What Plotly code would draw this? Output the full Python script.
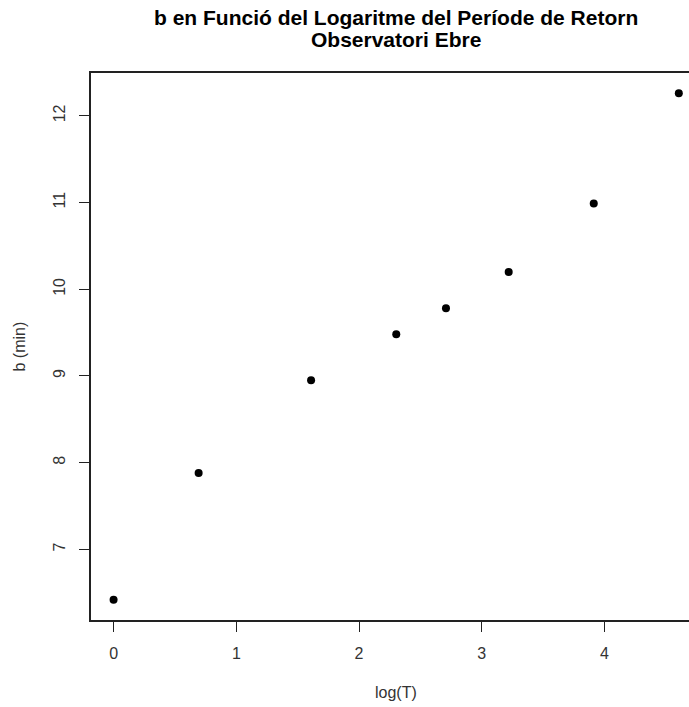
import plotly.graph_objects as go

# Return periods (years) and the fitted b parameter (minutes)
log_T = [0.0, 0.693, 1.609, 2.303, 2.708, 3.219, 3.912, 4.605]
b_min = [6.42, 7.88, 8.95, 9.48, 9.78, 10.20, 10.99, 12.26]

x_ticks = [0, 1, 2, 3, 4]
y_ticks = [7, 8, 9, 10, 11, 12]

W, H = 689, 707
L, T, B = 91, 73, 87

font = "Liberation Sans, Arial, sans-serif"
text_col = "#333333"
line_col = "#222222"

fig = go.Figure(
    go.Scatter(
        x=log_T, y=b_min, mode="markers",
        marker=dict(color="black", size=8, line=dict(width=0)),
        hoverinfo="x+y",
    )
)

fig.update_layout(
    width=W, height=H,
    margin=dict(l=L, r=0, t=T, b=B),
    paper_bgcolor="white", plot_bgcolor="white",
    showlegend=False,
    font=dict(family=font, size=16, color=text_col),
)

fig.update_xaxes(
    range=[-0.184, 4.688],
    tickvals=x_ticks, ticktext=[str(v) for v in x_ticks],
    showgrid=False, zeroline=False,
    showline=True, linecolor=line_col, linewidth=1.5, mirror=True,
    ticks="outside", ticklen=10, tickcolor=line_col, tickwidth=1,
    tickfont=dict(family=font, size=16, color=text_col),
    ticklabelstandoff=8,
)
fig.update_yaxes(
    range=[6.186, 12.494],
    tickvals=y_ticks, ticktext=[str(v) for v in y_ticks],
    showgrid=False, zeroline=False,
    showline=True, linecolor=line_col, linewidth=1.5, mirror=False,
    ticks="outside", ticklen=10, tickcolor=line_col, tickwidth=1,
    tickfont=dict(family=font, size=16, color=text_col),
    tickangle=-90,
    ticklabelstandoff=8,
)

plot_w = W - L
title_x = (396 - L) / plot_w

fig.add_annotation(
    text="<b>b en Funció del Logaritme del Període de Retorn</b>",
    xref="paper", yref="paper", x=title_x, y=1, yshift=56,
    showarrow=False, xanchor="center", yanchor="middle",
    font=dict(family=font, size=21, color="black"),
)
fig.add_annotation(
    text="<b>Observatori Ebre</b>",
    xref="paper", yref="paper", x=title_x, y=1, yshift=34,
    showarrow=False, xanchor="center", yanchor="middle",
    font=dict(family=font, size=21, color="black"),
)
fig.add_annotation(
    text="log(T)",
    xref="paper", yref="paper", x=title_x, y=0, yshift=-72,
    showarrow=False, xanchor="center", yanchor="middle",
    font=dict(family=font, size=16, color=text_col),
)
fig.add_annotation(
    text="b (min)",
    xref="paper", yref="paper", x=0, y=0.5, xshift=-72,
    showarrow=False, xanchor="center", yanchor="middle", textangle=-90,
    font=dict(family=font, size=16, color=text_col),
)

fig.write_html("out.html")
